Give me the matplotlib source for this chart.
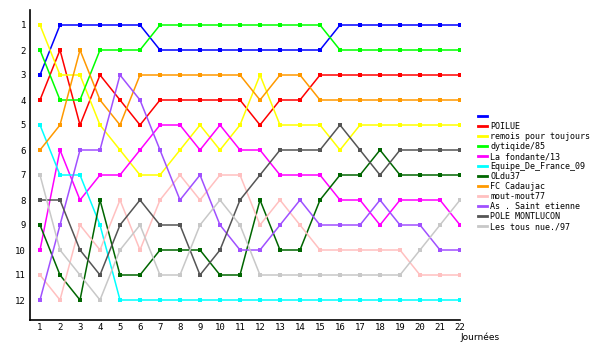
import matplotlib
matplotlib.use("Agg")
import matplotlib.pyplot as plt
from matplotlib.lines import Line2D

# Rankings per round (journée) for each team
rounds = list(range(1, 23))
teams = ["", "POILUE", "remois pour toujours", "dytiqide/85", "La fondante/13",
         "Equipe_De_France_09", "OLdu37", "FC Cadaujac", "mout-mout77",
         "As . Saint etienne", "POLE MONTLUCON", "Les tous nue./97"]
colors = ["#0000ff", "#ff0000", "#ffff00", "#00ff00", "#ff00ff", "#00ffff",
          "#006600", "#ff9900", "#ffc0c0", "#a050ff", "#555555", "#c8c8c8"]

blue = [3, 1, 1, 1, 1, 1, 2, 2, 2, 2, 2, 2, 2, 2, 2, 1, 1, 1, 1, 1, 1, 1]
poilue = [4, 2, 5, 3, 4, 5, 4, 4, 4, 4, 4, 5, 4, 4, 3, 3, 3, 3, 3, 3, 3, 3]
remois = [1, 3, 3, 5, 6, 7, 7, 6, 5, 6, 5, 3, 5, 5, 5, 6, 5, 5, 5, 5, 5, 5]
dytiqide = [2, 4, 4, 2, 2, 2, 1, 1, 1, 1, 1, 1, 1, 1, 1, 2, 2, 2, 2, 2, 2, 2]
fondante = [10, 6, 8, 7, 7, 6, 5, 5, 6, 5, 6, 6, 7, 7, 7, 8, 8, 9, 8, 8, 8, 9]
equipe = [5, 7, 7, 9, 12, 12, 12, 12, 12, 12, 12, 12, 12, 12, 12, 12, 12, 12, 12, 12, 12, 12]
oldu37 = [9, 11, 12, 8, 11, 11, 10, 10, 10, 11, 11, 8, 10, 10, 8, 7, 7, 6, 7, 7, 7, 7]
cadaujac = [6, 5, 2, 4, 5, 3, 3, 3, 3, 3, 3, 4, 3, 3, 4, 4, 4, 4, 4, 4, 4, 4]
mout = [11, 12, 9, 10, 8, 10, 8, 7, 8, 7, 7, 9, 8, 9, 10, 10, 10, 10, 10, 11, 11, 11]
stetienne = [12, 9, 6, 6, 3, 4, 6, 8, 7, 9, 10, 10, 9, 8, 9, 9, 9, 8, 9, 9, 10, 10]
montlucon = [8, 8, 10, 11, 9, 8, 9, 9, 11, 10, 8, 7, 6, 6, 6, 5, 6, 7, 6, 6, 6, 6]
tousnue = [7, 10, 11, 12, 10, 9, 11, 11, 9, 8, 9, 11, 11, 11, 11, 11, 11, 11, 11, 10, 9, 8]

series = [blue, poilue, remois, dytiqide, fondante, equipe, oldu37,
          cadaujac, mout, stetienne, montlucon, tousnue]

fig = plt.figure(figsize=(6, 3.5), dpi=100)
ax = fig.add_axes([30 / 600, 30 / 350, 430 / 600, 310 / 350])

for vals, c in zip(series, colors):
    ax.plot(rounds, vals, color=c, lw=1.1, marker="s", markersize=2.2,
            markeredgewidth=0)

ax.set_xlim(0.5, 22)
ax.set_ylim(12.8, 0.4)
ax.set_xticks(rounds)
ax.set_yticks(range(1, 13))
ax.tick_params(length=0, labelsize=6.5)
ax.tick_params(axis="x", pad=2)
ax.tick_params(axis="y", pad=3)
for lbl in ax.get_xticklabels() + ax.get_yticklabels():
    lbl.set_family("DejaVu Sans Mono")
for side in ["top", "right"]:
    ax.spines[side].set_visible(False)
for side in ["left", "bottom"]:
    ax.spines[side].set_linewidth(1.2)

fig.text(460 / 600, 1 - 337 / 350, "Journées", fontsize=6.5, va="center", ha="left")

# legend
handles = [Line2D([], [], color=c, lw=2) for c in colors]
leg = fig.legend(handles, teams, loc="upper left",
                 bbox_to_anchor=(478 / 600, 1 - 112 / 350),
                 frameon=False, prop={"family": "DejaVu Sans Mono", "size": 6},
                 handlelength=1.1, handletextpad=0.4, labelspacing=0.12,
                 borderpad=0, borderaxespad=0)

fig.savefig("out.png", dpi=100)
